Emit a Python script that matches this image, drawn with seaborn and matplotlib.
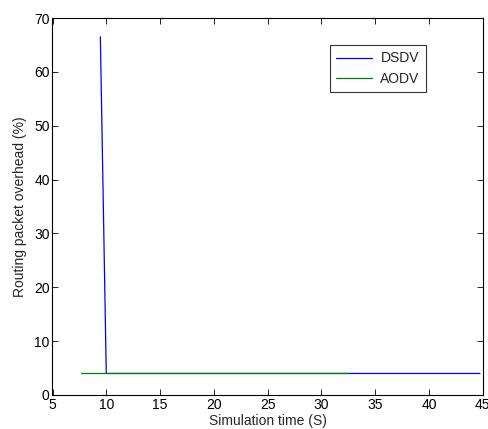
import matplotlib
matplotlib.use("Agg")
import matplotlib.pyplot as plt
import seaborn as sns
import pandas as pd

dsdv_time = [9.45, 10.0, 44.75]
dsdv_overhead = [66.5, 4.0, 4.0]
aodv_time = [7.65, 32.45]
aodv_overhead = [4.0, 4.0]
xticks = [5, 10, 15, 20, 25, 30, 35, 40, 45]
yticks = [0, 10, 20, 30, 40, 50, 60, 70]

sns.set_style("ticks")
plt.rcParams['font.family'] = ['Liberation Sans', 'DejaVu Sans']

df_d = pd.DataFrame({"t": dsdv_time, "v": dsdv_overhead})
df_a = pd.DataFrame({"t": aodv_time, "v": aodv_overhead})

fig = plt.figure(figsize=(4.89, 4.29), dpi=100)
ax = fig.add_axes([52.5/489, 1 - 395/429, (482.7-52.5)/489, (395-18)/429])
sns.lineplot(data=df_d, x="t", y="v", ax=ax, color=(0, 0, 1), lw=0.9,
             label="DSDV", sort=False, estimator=None)
sns.lineplot(data=df_a, x="t", y="v", ax=ax, color=(0, 0.5, 0), lw=0.9,
             label="AODV", sort=False, estimator=None)

ax.set_xlim(5, 45)
ax.set_ylim(0, 70)
ax.set_xticks(xticks)
ax.set_yticks(yticks)
ax.tick_params(direction="in", top=True, right=True, length=4, width=0.6,
               labelsize=10, pad=2, colors="black")
for s in ax.spines.values():
    s.set_visible(True)
    s.set_linewidth(0.8)
    s.set_color("black")
ax.set_xlabel("Simulation time (S)", fontsize=10, labelpad=1.5)
ax.set_ylabel("Routing packet overhead (%)", fontsize=10, labelpad=5)

leg = ax.legend(loc="upper right", bbox_to_anchor=(0.868, 0.928), fontsize=10,
                frameon=True, fancybox=False, edgecolor="black",
                handlelength=2.6, borderpad=0.45, labelspacing=0.45,
                borderaxespad=0, handletextpad=0.6)
leg.get_frame().set_linewidth(0.8)

fig.savefig("out.png", dpi=100)
